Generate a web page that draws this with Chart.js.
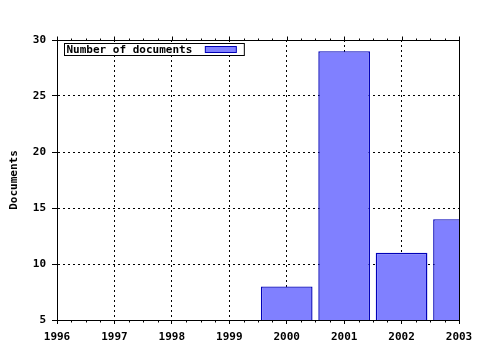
<!DOCTYPE html>
<html>
<head>
<meta charset="utf-8">
<script src="https://cdn.jsdelivr.net/npm/chart.js@4/dist/chart.umd.min.js"></script>
<style>
    html, body { margin: 0; padding: 0; background: #ffffff; }
    canvas { display: block; }
</style>
</head>
<body>
<canvas id="docChart" width="480" height="350"></canvas>
<script>
const years = [2000, 2001, 2002, 2003];
const documents = [8, 29, 11, 14];
const seriesLabel = "Number of documents";
const yAxisTitle = "Documents";
const xRange = [1996, 2003];
const yRange = [5, 30];

const FONT = "'DejaVu Sans Mono', monospace";
const BAR_FILL = "#8080ff";
const BAR_EDGE = "#0000b8";

// Box round the plot, small ticks on top/bottom, legend inside the plot
const framePlugin = {
    id: "frame",
    afterDatasetsDraw(chart){
        const ctx = chart.ctx;
        const a = chart.chartArea;
        const xs = chart.scales.x;
        const l = Math.round(a.left) + 0.5;
        const r = Math.round(a.right) + 0.5;
        const t = Math.round(a.top) + 0.5;
        const b = Math.round(a.bottom) + 0.5;

        ctx.save();
        ctx.strokeStyle = "#000";
        ctx.lineWidth = 1;
        ctx.beginPath();
        ctx.rect(l, t, r - l, b - t);

        // ticks along x, quarter steps
        for(let v = xRange[0]; v <= xRange[1] + 0.001; v += 0.25){
            const px = Math.round(xs.getPixelForValue(v)) + 0.5;
            const major = Math.abs(v - Math.round(v)) < 0.001;
            const len = major ? 4 : 2;
            ctx.moveTo(px, t);
            ctx.lineTo(px, t - len);
            if(!major){
                ctx.moveTo(px, b);
                ctx.lineTo(px, b + len);
            }
        }
        ctx.stroke();

        // legend
        ctx.font = "bold 11px " + FONT;
        ctx.textBaseline = "middle";
        const textW = ctx.measureText(seriesLabel).width;
        const bx = l + 7;
        const by = t + 3;
        const bh = 12;
        const swX = bx + 2 + textW + 13;
        const bw = swX + 31 + 8 - bx;

        ctx.fillStyle = "#fff";
        ctx.fillRect(bx, by, bw, bh);
        ctx.strokeRect(bx, by, bw, bh);
        ctx.fillStyle = "#000";
        ctx.fillText(seriesLabel, bx + 2, by + bh / 2 + 1);

        ctx.fillStyle = BAR_FILL;
        ctx.fillRect(swX, by + 3, 31, 6);
        ctx.strokeStyle = BAR_EDGE;
        ctx.strokeRect(swX, by + 3, 31, 6);
        ctx.restore();
    }
};

const ctx = document.getElementById("docChart").getContext("2d");

new Chart(ctx, {
    type: "bar",
    data: {
        datasets: [{
            label: seriesLabel,
            data: years.map((yr, i) => ({x: yr, y: documents[i]})),
            backgroundColor: BAR_FILL,
            borderColor: BAR_EDGE,
            borderWidth: 1.4,
            borderSkipped: false,
            barPercentage: 0.9,
            categoryPercentage: 1.0
        }]
    },
    options: {
        responsive: false,
        animation: false,
        layout: {
            padding: {top: 40, right: 21, left: 0, bottom: 0}
        },
        plugins: {
            legend: {display: false},
            tooltip: {enabled: false}
        },
        scales: {
            x: {
                type: "linear",
                min: xRange[0],
                max: xRange[1],
                offset: false,
                ticks: {
                    stepSize: 1,
                    color: "#000",
                    padding: 7,
                    font: {family: FONT, size: 11, weight: "bold"},
                    maxRotation: 0,
                    callback: v => String(v)
                },
                grid: {
                    offset: false,
                    color: "#000",
                    lineWidth: 1,
                    tickLength: 4,
                    tickColor: "#000",
                    tickBorderDash: []
                },
                border: {display: true, color: "#000", width: 1, dash: [2, 3]},
                afterFit(scale){ scale.height = 30; }
            },
            y: {
                min: yRange[0],
                max: yRange[1],
                ticks: {
                    stepSize: 5,
                    color: "#000",
                    padding: 6,
                    font: {family: FONT, size: 11, weight: "bold"}
                },
                grid: {
                    color: "#000",
                    lineWidth: 1,
                    tickLength: 5,
                    tickColor: "#000",
                    tickBorderDash: []
                },
                border: {display: true, color: "#000", width: 1, dash: [2, 3]},
                title: {
                    display: true,
                    text: yAxisTitle,
                    color: "#000",
                    font: {family: FONT, size: 11, weight: "bold"},
                    padding: {top: 8, bottom: 0}
                },
                afterFit(scale){ scale.width = 57; }
            }
        }
    },
    plugins: [framePlugin]
});
</script>
</body>
</html>
